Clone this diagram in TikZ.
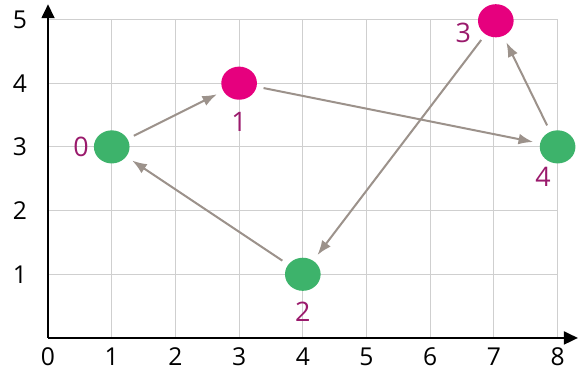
\documentclass[tikz,border=0pt]{standalone}
\usepackage{fontspec}
\setmainfont{Open Sans}
\usepackage{xcolor}
\usetikzlibrary{arrows.meta,shapes.geometric}
\definecolor{PGreen}{HTML}{3DB36B}
\definecolor{PMagenta}{HTML}{E6007E}
\definecolor{PLabel}{HTML}{9A1A6C}
\definecolor{PArrow}{HTML}{9C928B}
\definecolor{PGrid}{HTML}{CFCFCF}

\begin{document}
\begin{tikzpicture}[
  x=1cm,y=1cm,
  g/.style={ellipse,fill=PGreen,minimum width=0.56cm,minimum height=0.52cm,inner sep=0pt},
  m/.style={ellipse,fill=PMagenta,minimum width=0.56cm,minimum height=0.52cm,inner sep=0pt},
  lab/.style={font=\fontsize{12}{12}\selectfont,text=PLabel},
  tick/.style={font=\fontsize{11}{11}\selectfont},
  a/.style={-{Latex[length=2.3mm,width=1.7mm]},line width=0.9pt,color=PArrow,
    shorten <=3pt,shorten >=3pt},
  ax/.style={-{Triangle[length=2.2mm,width=2mm]},line width=1.1pt}
]
  \useasboundingbox (-0.754,-0.565) rectangle (8.32,5.306);
  \draw[PGrid,line width=0.5pt] (0,0) grid (8,5);
  \coordinate (o) at (0,0);
  \coordinate (xe) at (8.32,0);
  \coordinate (ye) at (0,5.24);
  \draw[ax] (o) -- (xe);
  \draw[ax] (o) -- (ye);
  \foreach \i in {0,...,8}
    \node[tick] (x\i) at (\i,-0.3) {\i};
  \foreach \j in {1,...,5}
    \node[tick] (y\j) at (-0.44,\j) {\j};
  \node[g] (n0) at (1,3) {};
  \node[m] (n1) at (3,4) {};
  \node[g] (n2) at (4,1) {};
  \node[m] (n3) at (7.03,4.98) {};
  \node[g] (n4) at (8,3) {};
  \node[lab] (l0) at (0.52,3) {0};
  \node[lab] (l1) at (3,3.39) {1};
  \node[lab] (l2) at (4,0.41) {2};
  \node[lab] (l3) at (6.52,4.79) {3};
  \node[lab] (l4) at (7.77,2.53) {4};
  \draw[a] (n0) -- (n1);
  \draw[a] (n1) -- (n4);
  \draw[a] (n4) -- (n3);
  \draw[a] (n3) -- (n2);
  \draw[a] (n2) -- (n0);
\end{tikzpicture}
\end{document}
